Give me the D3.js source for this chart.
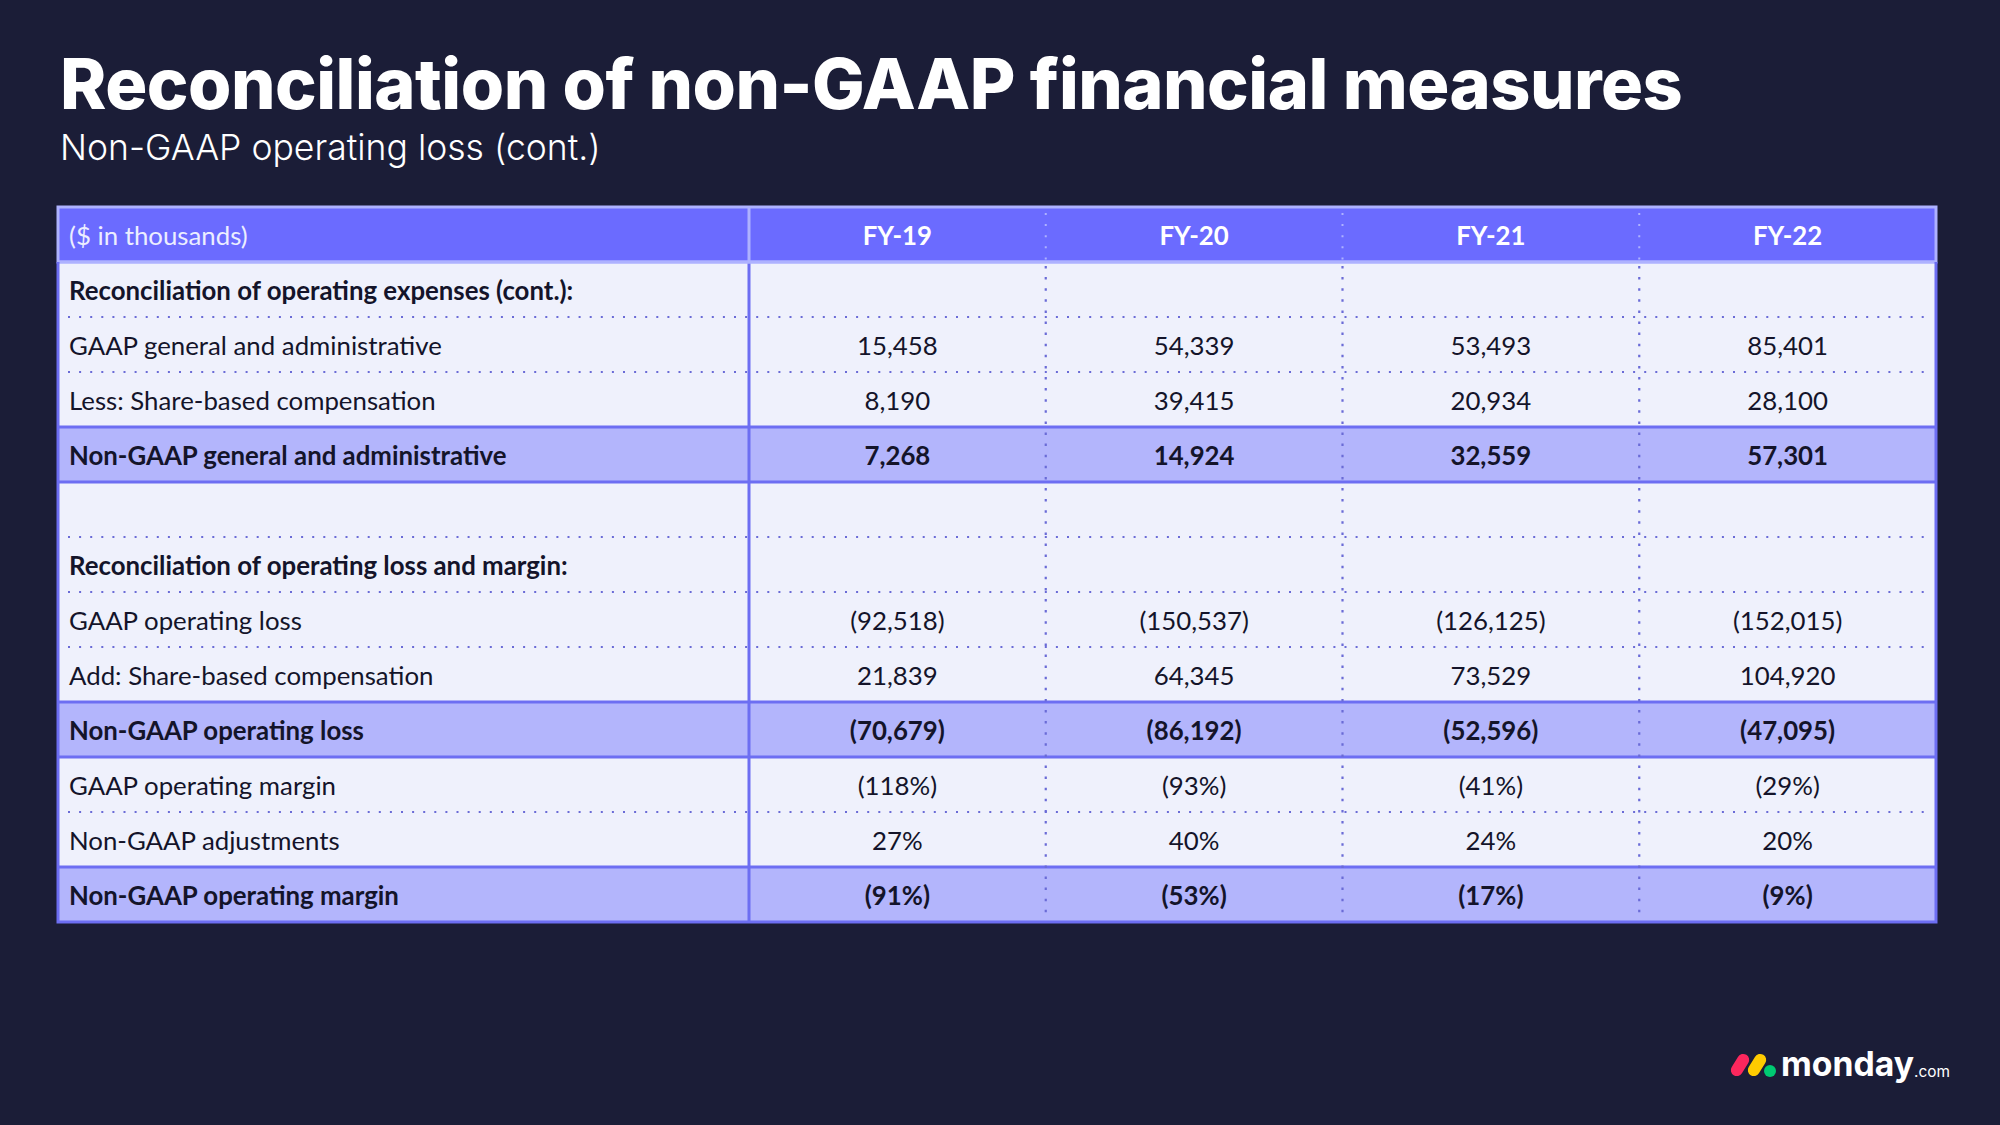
<!DOCTYPE html>
<html>
<head>
<meta charset="utf-8">
<script src="https://cdn.jsdelivr.net/npm/d3@7"></script>
<style>
  html, body { margin: 0; padding: 0; background: #1b1d37; }
  svg { display: block; }
</style>
</head>
<body>
<svg id="chart" width="2000" height="1125"></svg>
<script>
// ---------------- DATA ----------------
const title = "Reconciliation of non-GAAP financial measures";
const subtitle = "Non-GAAP operating loss (cont.)";
const unitLabel = "($ in thousands)";
const years = ["FY-19", "FY-20", "FY-21", "FY-22"];
const rowLabels = [
  "Reconciliation of operating expenses (cont.):",
  "GAAP general and administrative",
  "Less: Share-based compensation",
  "Non-GAAP general and administrative",
  "",
  "Reconciliation of operating loss and margin:",
  "GAAP operating loss",
  "Add: Share-based compensation",
  "Non-GAAP operating loss",
  "GAAP operating margin",
  "Non-GAAP adjustments",
  "Non-GAAP operating margin"
];
const rowKinds = ["section","item","item","total","blank","section","item","item","total","item","item","total"];
const gaapGA        = ["15,458", "54,339", "53,493", "85,401"];
const lessSBC       = ["8,190", "39,415", "20,934", "28,100"];
const nonGaapGA     = ["7,268", "14,924", "32,559", "57,301"];
const gaapOpLoss    = ["(92,518)", "(150,537)", "(126,125)", "(152,015)"];
const addSBC        = ["21,839", "64,345", "73,529", "104,920"];
const nonGaapOpLoss = ["(70,679)", "(86,192)", "(52,596)", "(47,095)"];
const gaapMargin    = ["(118%)", "(93%)", "(41%)", "(29%)"];
const adjustments   = ["27%", "40%", "24%", "20%"];
const nonGaapMargin = ["(91%)", "(53%)", "(17%)", "(9%)"];
const rowValues = [null, gaapGA, lessSBC, nonGaapGA, null, null, gaapOpLoss, addSBC, nonGaapOpLoss, gaapMargin, adjustments, nonGaapMargin];

// ---------------- LAYOUT ----------------
const C = {
  bg: "#1b1d37", header: "#6b6bff", headerLine: "#aeb2ff",
  body: "#eff1fc", total: "#b3b5fc", border: "#6d6ef2", dot: "#6a6bd6",
  text: "#14142a"
};
const tableLeft = 58, tableRight = 1936, firstColRight = 749;
const tableTop = 207, headerH = 55, rowH = 55;
const bodyTop = tableTop + headerH;
const bodyBottom = bodyTop + rowH * rowLabels.length;
const tableFont = "Lato, 'Noto Sans', sans-serif";
const fs = 25.8;

const svg = d3.select("#chart");
svg.append("rect").attr("width", 2000).attr("height", 1125).attr("fill", C.bg);

// fit text width helper
function fitText(sel, target) {
  const f = parseFloat(sel.attr("font-size"));
  const w = sel.node().getComputedTextLength();
  sel.attr("font-size", f * target / w);
}

const t = svg.append("text").attr("x", 60).attr("y", 109).text(title)
  .attr("font-family", "Inter, 'Noto Sans', sans-serif").attr("font-weight", 800)
  .attr("font-size", 68).attr("fill", "#ffffff").attr("letter-spacing", "-0.5px");
fitText(t, 1622);
const st = svg.append("text").attr("x", 60).attr("y", 160).text(subtitle)
  .attr("font-family", "Inter, 'Noto Sans', sans-serif").attr("font-weight", 300)
  .attr("font-size", 30).attr("fill", "#ffffff");
fitText(st, 541);

// scales
const x = d3.scaleBand().domain(years).range([firstColRight, tableRight]).padding(0);
const y = d3.scaleBand().domain(d3.range(rowLabels.length)).range([bodyTop, bodyBottom]).padding(0);

// header
svg.append("rect").attr("x", tableLeft).attr("y", tableTop).attr("width", tableRight - tableLeft)
  .attr("height", headerH).attr("fill", C.header);
// body rows
const rows = svg.append("g");
rows.selectAll("rect").data(rowKinds).join("rect")
  .attr("x", tableLeft).attr("y", (d, i) => y(i))
  .attr("width", tableRight - tableLeft).attr("height", y.bandwidth())
  .attr("fill", d => d === "total" ? C.total : C.body);

// horizontal separators
const lines = svg.append("g");
for (let i = 1; i < rowKinds.length; i++) {
  const solid = rowKinds[i] === "total" || rowKinds[i - 1] === "total";
  const yy = y(i);
  if (solid) {
    lines.append("line").attr("x1", tableLeft).attr("x2", tableRight).attr("y1", yy).attr("y2", yy)
      .attr("stroke", C.border).attr("stroke-width", 3);
  } else {
    lines.append("line").attr("x1", tableLeft + 10).attr("x2", tableRight - 4).attr("y1", yy).attr("y2", yy)
      .attr("stroke", C.dot).attr("stroke-width", 2).attr("stroke-dasharray", "2 9.1");
  }
}
// vertical dotted separators between year columns
years.slice(1).forEach(yr => {
  const xx = x(yr);
  svg.append("line").attr("x1", xx).attr("x2", xx).attr("y1", tableTop + 6).attr("y2", bodyTop)
    .attr("stroke", C.headerLine).attr("stroke-width", 2).attr("stroke-dasharray", "2 9.1");
  svg.append("line").attr("x1", xx).attr("x2", xx).attr("y1", bodyTop + 4).attr("y2", bodyBottom)
    .attr("stroke", C.dot).attr("stroke-width", 2.2).attr("stroke-dasharray", "2.5 8.6");
});
// first column solid separator
svg.append("line").attr("x1", firstColRight).attr("x2", firstColRight).attr("y1", tableTop).attr("y2", bodyTop)
  .attr("stroke", C.headerLine).attr("stroke-width", 3);
svg.append("line").attr("x1", firstColRight).attr("x2", firstColRight).attr("y1", bodyTop).attr("y2", bodyBottom)
  .attr("stroke", C.border).attr("stroke-width", 3);
// header bottom line
svg.append("line").attr("x1", tableLeft).attr("x2", tableRight).attr("y1", bodyTop).attr("y2", bodyTop)
  .attr("stroke", C.headerLine).attr("stroke-width", 3);
// borders
svg.append("rect").attr("x", tableLeft).attr("y", tableTop).attr("width", tableRight - tableLeft)
  .attr("height", headerH).attr("fill", "none").attr("stroke", C.headerLine).attr("stroke-width", 3);
svg.append("path")
  .attr("d", `M${tableLeft},${bodyTop}V${bodyBottom}H${tableRight}V${bodyTop}`)
  .attr("fill", "none").attr("stroke", C.border).attr("stroke-width", 3);

// header text
svg.append("text").attr("x", 69).attr("y", tableTop + headerH / 2).attr("dy", "0.42em")
  .attr("font-family", tableFont).attr("font-size", fs).attr("fill", "#eceeff").text(unitLabel);
svg.append("g").selectAll("text").data(years).join("text")
  .attr("x", d => x(d) + x.bandwidth() / 2).attr("y", tableTop + headerH / 2).attr("dy", "0.4em")
  .attr("text-anchor", "middle").attr("font-family", tableFont).attr("font-weight", 700)
  .attr("font-size", fs).attr("fill", "#ffffff").text(d => d);

// row labels
svg.append("g").selectAll("text").data(rowLabels).join("text")
  .attr("x", 69).attr("y", (d, i) => y(i) + y.bandwidth() / 2).attr("dy", "0.4em")
  .attr("font-family", tableFont).attr("font-size", fs)
  .attr("font-weight", (d, i) => rowKinds[i] === "section" || rowKinds[i] === "total" ? 700 : 400)
  .attr("fill", C.text).text(d => d);

// values
rowValues.forEach((vals, i) => {
  if (!vals) return;
  svg.append("g").selectAll("text").data(vals).join("text")
    .attr("x", (d, j) => x(years[j]) + x.bandwidth() / 2)
    .attr("y", y(i) + y.bandwidth() / 2).attr("dy", "0.4em")
    .attr("text-anchor", "middle").attr("font-family", tableFont).attr("font-size", fs)
    .attr("font-weight", rowKinds[i] === "total" ? 700 : 400)
    .attr("fill", C.text).text(d => d);
});

// logo
const logo = svg.append("g");
logo.append("rect").attr("x", -12).attr("y", -6).attr("width", 24).attr("height", 12).attr("rx", 6)
  .attr("fill", "#fb275d").attr("transform", "translate(1740,1065) rotate(-58)");
logo.append("rect").attr("x", -12).attr("y", -6).attr("width", 24).attr("height", 12).attr("rx", 6)
  .attr("fill", "#ffcb00").attr("transform", "translate(1757,1065) rotate(-58)");
logo.append("circle").attr("cx", 1770).attr("cy", 1071).attr("r", 6).attr("fill", "#00ca72");
const mt = logo.append("text").attr("x", 1781).attr("y", 1076).text("monday")
  .attr("font-family", "Inter, sans-serif").attr("font-weight", 700).attr("font-size", 38)
  .attr("fill", "#ffffff");
fitText(mt, 133);
const ct = logo.append("text").attr("x", 1914).attr("y", 1077).text(".com")
  .attr("font-family", "Inter, sans-serif").attr("font-weight", 400).attr("font-size", 16)
  .attr("fill", "#ffffff");
fitText(ct, 36);
</script>
</body>
</html>
